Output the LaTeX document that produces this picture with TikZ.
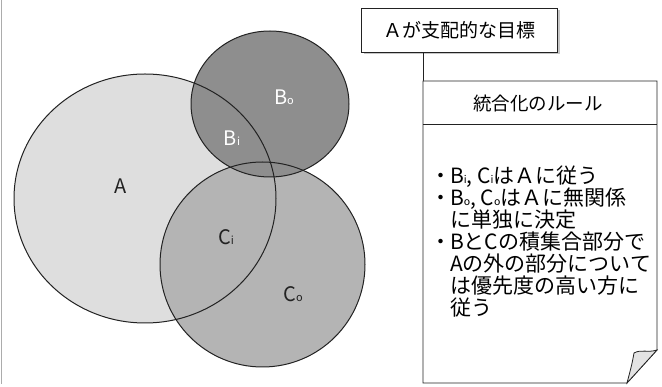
\documentclass[tikz,border=0pt]{standalone}
\usepackage{fontspec}
\setmainfont{Noto Sans CJK JP}
\usetikzlibrary{shadows}
\definecolor{cA}{HTML}{DEDEDE}
\definecolor{cB}{HTML}{8E8E8E}
\definecolor{cC}{HTML}{B4B4B4}
\definecolor{ink}{HTML}{222222}
\newcommand\sbs[1]{{\fontsize{10.5}{10.5}\selectfont #1}}
\newcommand\bsbs[1]{{\fontsize{11}{11}\selectfont #1}}
\newcommand\bul{\makebox[0.85em][c]{・}}
\newcommand\ind{\hspace*{0.85em}}
\newcommand\rulefont{\fontsize{21}{22}\selectfont\lineskiplimit=-50pt\relax}
\begin{document}
\begin{tikzpicture}[x=1pt,y=-1pt,
  circ/.style={draw=ink, line width=1pt},
  lbl/.style={font=\fontsize{20}{20}\selectfont, inner sep=0},
  boxline/.style={draw=ink, line width=0.8pt},
  goalbox/.style={boxline, fill=white, minimum width=196pt, minimum height=44pt,
     font=\fontsize{19}{19}\selectfont, drop shadow={shadow xshift=2.5pt, shadow yshift=-2.5pt, fill=gray!45, opacity=1}},
  ]
\useasboundingbox (0,0) rectangle (662,387);
\fill[white] (0,0) rectangle (662,387);
\draw[gray!65, line width=1.6pt] (1.5,0) -- (1.5,384);
% circles
\fill[cA] (145,198.5) ellipse [x radius=131pt, y radius=124.5pt];
\fill[cC] (262.5,264.5) ellipse [x radius=102.5pt, y radius=102.5pt];
\fill[cB] (270,104) ellipse [x radius=79pt, y radius=73pt];
\draw[circ] (145,198.5) ellipse [x radius=131pt, y radius=124.5pt];
\draw[circ] (262.5,264.5) ellipse [x radius=102.5pt, y radius=102.5pt];
\draw[circ] (270,104) ellipse [x radius=79pt, y radius=73pt];
\node[lbl, text=ink] (lA) at (121,186) {A};
\node[lbl, text=white] (lBo) at (284,97) {B\bsbs{o}};
\node[lbl, text=white] (lBi) at (232,138) {B\bsbs{i}};
\node[lbl, text=ink] (lCi) at (226,237) {C\bsbs{i}};
\node[lbl, text=ink] (lCo) at (293,294) {C\bsbs{o}};
% goal box
\node[goalbox] (goal) at (459,30) {Ａが支配的な目標};
% rule sheet
\coordinate (rtl) at (423,81);
\coordinate (rtr) at (657,81);
\coordinate (rfold) at (657,350);
\coordinate (rbr) at (627,383);
\coordinate (rbl) at (423,383);
\coordinate (hl) at (423,124);
\coordinate (hr) at (657,124);
\draw[boxline] (goal.south -| rtl) -- (rtl);
\draw[boxline, fill=white] (rtl) -- (rtr) -- (rfold) -- (rbr) -- (rbl) -- cycle;
\draw[boxline, fill=gray!22] (rfold) .. controls (648,353) and (641,349) .. (634,353) .. controls (632,364) .. (rbr) -- cycle;
\draw[boxline] (hl) -- (hr);
\node[font=\fontsize{18.5}{18.5}\selectfont, inner sep=0] (rhead) at (538,104) {統合化のルール};
\node[anchor=north west, inner sep=0, align=left, font=\rulefont] (rules) at (432,166) {%
\bul B\sbs{i}, C\sbs{i}はＡに従う\\
\bul B\sbs{o}, C\sbs{o}はＡに無関係\\
\ind に単独に決定\\
\bul BとCの積集合部分で\\
\ind Aの外の部分について\\
\ind は優先度の高い方に\\
\ind 従う};
\end{tikzpicture}
\end{document}
